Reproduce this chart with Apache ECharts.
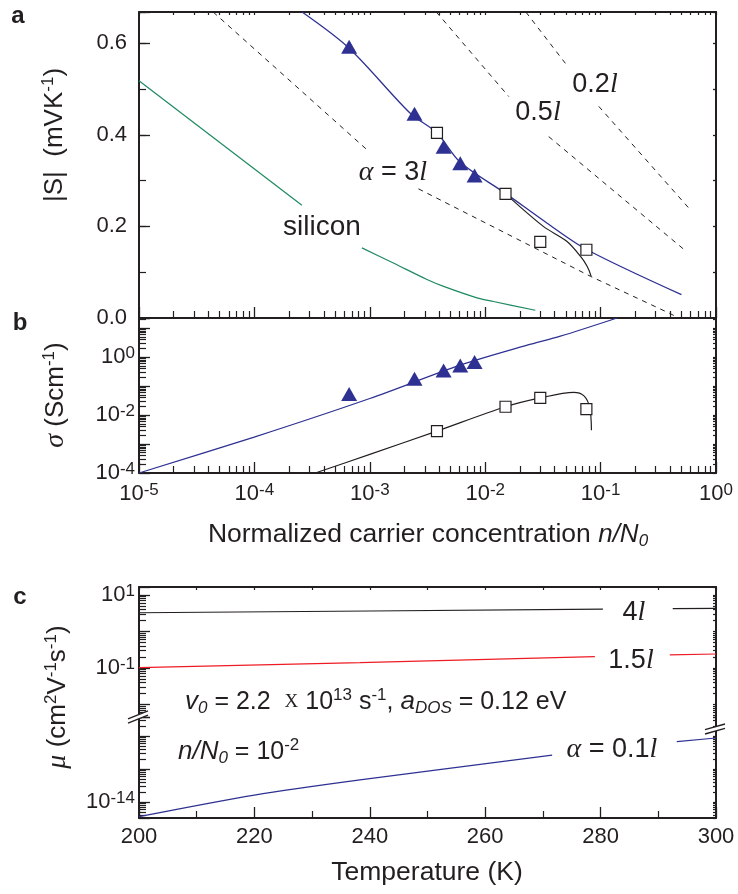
<!DOCTYPE html>
<html><head><meta charset="utf-8">
<script src="https://cdn.jsdelivr.net/npm/echarts@6/dist/echarts.min.js"></script>
<style>html,body{margin:0;padding:0;background:#fff}#c{width:738px;height:894px}</style>
</head><body><div id="c"></div>
<script>
// ===== Panel a: |S| (mV/K) vs n/N0 =====
const aBlueFit   = [[2.59e-4,0.668],[6.62e-4,0.589],[2.24e-3,0.447],[3.82e-3,0.404],[6.08e-3,0.340],[1.52e-2,0.271],[3.44e-2,0.207],[7.64e-2,0.149],[0.502,0.051]];
const aBlackFit  = [[1.5e-2,0.271],[3.19e-2,0.200],[5.12e-2,0.167],[6.68e-2,0.135],[7.64e-2,0.113],[8.28e-2,0.091]];
const aTriangles = [[6.62e-4,0.592],[2.44e-3,0.446],[4.36e-3,0.374],[6.08e-3,0.338],[8.09e-3,0.311]];
const aSquares   = [[3.82e-3,0.404],[1.5e-2,0.271],[3.0e-2,0.166],[7.53e-2,0.149]];
const aDash3l_1  = [[4.39e-5,0.668],[9.48e-4,0.367]];
const aDash3l_2  = [[2.64e-3,0.282],[8.17e-2,0.091],[0.39,0.011],[0.46,0.002]];
const aDash05l_1 = [[3.77e-3,0.668],[1.6e-2,0.4835]];
const aDash05l_2 = [[3.55e-2,0.396],[0.52,0.151]];
const aDash02l_1 = [[2.25e-2,0.668],[4.95e-2,0.556]];
const aDash02l_2 = [[9.64e-2,0.462],[0.581,0.240]];
const aSilicon_1 = [[1e-5,0.518],[2.58e-4,0.246]];
const aSilicon_2 = [[8.55e-4,0.153],[1.6e-3,0.120],[3.13e-3,0.084],[4.36e-3,0.069],[8.49e-3,0.044],[1.18e-2,0.036],[2.72e-2,0.017]];
const aYRange    = [0, 0.668];
const aYTicks    = [0, 0.2, 0.4, 0.6];

// ===== Panel b: sigma (S/cm) vs n/N0 =====
const bBlueFit   = [[1e-5,1e-4],[9.8e-5,1.7e-3],[1.0e-3,3.72e-2],[6.08e-3,0.525],[2.31e-2,2.57],[4.48e-2,5.25],[0.139,22.3]];
const bBlackFit  = [[3.37e-4,1e-4],[1.0e-3,4.4e-4],[3.82e-3,2.8e-3],[1.5e-2,1.93e-2],[3.0e-2,3.9e-2],[5.85e-2,6.07e-2],[7.14e-2,4.66e-2],[8.05e-2,1.82e-2],[8.33e-2,2.96e-3]];
const bTriangles = [[6.62e-4,0.053],[2.44e-3,0.177],[4.36e-3,0.345],[6.08e-3,0.51],[8.09e-3,0.67]];
const bSquares   = [[3.82e-3,0.0028],[1.5e-2,0.0193],[3.0e-2,0.039],[7.53e-2,0.016]];

// ===== Panel c: mu vs temperature (broken log axis) =====
const c4l_1   = [[200,3.27],[240,3.65],[280.4,4.10]];
const c4l_2   = [[292.5,4.25],[300,4.33]];
const c15l_1  = [[200,0.102],[238.3,0.140],[279,0.204]];
const c15l_2  = [[292,0.229],[300,0.242]];
const c01l_1  = [[200,3.59e-15],[220,1.62e-14],[238.3,4.68e-14],[271.6,2.63e-13]];
const c01l_2  = [[293.2,6.76e-13],[300,8.71e-13]];

// axis ranges in decades (log10)
const nExp     = [-5, 0];
const bExp     = [-4, 1.3483];
const cUpExp   = [-2.342, 1.2201];
const cLowExp  = [-14.4855, -11.4237];
const tRange   = [200, 300];

const FONT = "'Liberation Sans', Arial, Helvetica, sans-serif";
const SERIF = "'Liberation Serif', 'Times New Roman', serif";
const INK = '#231f20', BLUE = '#2e3192', GREEN = '#1f8a5f', RED = '#ed1c24';

function powLabel(v, allowed) {
  const l = Math.log10(v), e = Math.round(l);
  if (Math.abs(l - e) > 1e-6) return '';
  if (allowed && allowed.indexOf(e) < 0) return '';
  return '10{sup|' + e + '}';
}
function minorVals(r) {
  const out = [];
  for (let e = Math.floor(r[0]); e <= Math.ceil(r[1]); e++)
    for (let k = 2; k <= 9; k++) { const v = e + Math.log10(k); if (v > r[0] && v < r[1]) out.push(v); }
  return out;
}
const supRich = { sup: { fontSize: 17, lineHeight: 17, verticalAlign: 'top', color: INK, fontFamily: FONT } };
const noSplit = { splitLine: { show: false }, minorSplitLine: { show: false } };
const hiddenLine = { show: true, lineStyle: { color: INK, width: 0, opacity: 0 } };

function ax(o) {
  const line = Object.assign({ show: true, onZero: false, lineStyle: { color: INK, width: 2 } }, o.axisLine || {});
  return Object.assign({ axisTick: { show: false }, minorTick: { show: false }, axisLabel: { show: false } }, noSplit, o, { axisLine: line });
}
function tick(len, w) { return { show: true, inside: true, length: len, lineStyle: { color: INK, width: w } }; }
// overlay axis (in decades) that only carries the log minor ticks 2..9 x 10^k
function minorAx(grid, r, pos, len) {
  const t = tick(len, 1.2);
  t.customValues = minorVals(r);
  return ax({ gridIndex: grid, type: 'value', min: r[0], max: r[1], position: pos, axisLine: hiddenLine, axisTick: t });
}
const logLab = (allowed, margin) => ({ show: true, margin: margin, fontSize: 22, lineHeight: 24, color: INK, fontFamily: FONT,
  formatter: v => powLabel(v, allowed), rich: supRich });

const MAJ = 11, MIN = 7, TINY = 3;

const xAxis = [
  ax({ gridIndex: 0, type: 'log', min: Math.pow(10, nExp[0]), max: Math.pow(10, nExp[1]), position: 'bottom', axisTick: tick(MAJ, 1.3) }),
  ax({ gridIndex: 0, type: 'log', min: Math.pow(10, nExp[0]), max: Math.pow(10, nExp[1]), position: 'top', axisTick: tick(TINY, 1.2) }),
  ax({ gridIndex: 1, type: 'log', min: Math.pow(10, nExp[0]), max: Math.pow(10, nExp[1]), position: 'bottom', axisTick: tick(MAJ, 1.3),
       axisLabel: logLab(null, 9) }),
  ax({ gridIndex: 2, type: 'value', min: tRange[0], max: tRange[1], interval: 10, position: 'top', axisTick: tick(TINY, 1.2) }),
  ax({ gridIndex: 3, type: 'value', min: tRange[0], max: tRange[1], interval: 20, position: 'bottom', axisTick: tick(MAJ, 1.3),
       minorTick: { show: true, splitNumber: 2, length: MIN, lineStyle: { color: INK, width: 1.2 } },
       axisLabel: { show: true, margin: 8, fontSize: 22, color: INK, fontFamily: FONT } }),
  minorAx(0, nExp, 'bottom', MIN),
  minorAx(0, nExp, 'top', TINY),
  minorAx(1, nExp, 'bottom', MIN)
];

const yAxis = [
  ax({ gridIndex: 0, type: 'value', min: aYRange[0], max: aYRange[1], interval: 0.2, position: 'left', axisTick: tick(MAJ, 1.3),
       axisLabel: { show: true, margin: 12, fontSize: 22, color: INK, fontFamily: FONT,
         formatter: v => aYTicks.some(t => Math.abs(t - v) < 1e-9) ? v.toFixed(1) : '' } }),
  ax({ gridIndex: 0, type: 'value', min: aYRange[0], max: aYRange[1], interval: 0.1, position: 'left', axisLine: hiddenLine, axisTick: tick(MIN, 1.2) }),
  ax({ gridIndex: 0, type: 'value', min: aYRange[0], max: aYRange[1], interval: 0.1, position: 'right', axisTick: tick(TINY, 1.3) }),
  ax({ gridIndex: 1, type: 'log', min: Math.pow(10, bExp[0]), max: Math.pow(10, bExp[1]), position: 'left', axisTick: tick(MAJ, 1.3),
       axisLabel: logLab([0, -2, -4], 4) }),
  ax({ gridIndex: 1, type: 'log', min: Math.pow(10, bExp[0]), max: Math.pow(10, bExp[1]), position: 'right', axisTick: tick(TINY, 1.2) }),
  ax({ gridIndex: 2, type: 'log', min: Math.pow(10, cUpExp[0]), max: Math.pow(10, cUpExp[1]), position: 'left', axisTick: tick(MAJ, 1.3),
       axisLabel: logLab([1, -1], 4) }),
  ax({ gridIndex: 2, type: 'log', min: Math.pow(10, cUpExp[0]), max: Math.pow(10, cUpExp[1]), position: 'right', axisTick: tick(TINY, 1.2) }),
  ax({ gridIndex: 3, type: 'log', min: Math.pow(10, cLowExp[0]), max: Math.pow(10, cLowExp[1]), position: 'left', axisTick: tick(MAJ, 1.3),
       axisLabel: logLab([-14], 4) }),
  ax({ gridIndex: 3, type: 'log', min: Math.pow(10, cLowExp[0]), max: Math.pow(10, cLowExp[1]), position: 'right', axisTick: tick(TINY, 1.2) }),
  minorAx(1, bExp, 'left', MIN),
  minorAx(1, bExp, 'right', TINY),
  minorAx(2, cUpExp, 'left', MIN),
  minorAx(2, cUpExp, 'right', TINY),
  minorAx(3, cLowExp, 'left', MIN),
  minorAx(3, cLowExp, 'right', TINY)
];

function ln(data, xi, yi, color, width, dashed, smooth) {
  return { type: 'line', data: data, xAxisIndex: xi, yAxisIndex: yi, showSymbol: false, symbol: 'none',
    smooth: smooth || false, lineStyle: { color: color, width: width, type: dashed ? [5, 5] : 'solid' }, z: 3 };
}
function tri(data, xi, yi) {
  return { type: 'scatter', data: data, xAxisIndex: xi, yAxisIndex: yi, symbol: 'triangle', symbolSize: [16, 14],
    itemStyle: { color: BLUE, opacity: 1 }, z: 5 };
}
function sq(data, xi, yi) {
  return { type: 'scatter', data: data, xAxisIndex: xi, yAxisIndex: yi, symbol: 'rect', symbolSize: 11,
    itemStyle: { color: '#fff', borderColor: INK, borderWidth: 1.2, opacity: 1 }, z: 6 };
}

const series = [
  ln(aSilicon_1, 0, 0, GREEN, 1.2), ln(aSilicon_2, 0, 0, GREEN, 1.2, false, 0.3),
  ln(aDash3l_1, 0, 0, INK, 1, true), ln(aDash3l_2, 0, 0, INK, 1, true),
  ln(aDash05l_1, 0, 0, INK, 1, true), ln(aDash05l_2, 0, 0, INK, 1, true),
  ln(aDash02l_1, 0, 0, INK, 1, true), ln(aDash02l_2, 0, 0, INK, 1, true),
  ln(aBlueFit, 0, 0, BLUE, 1.3, false, 0.3), ln(aBlackFit, 0, 0, INK, 1.2, false, 0.3),
  tri(aTriangles, 0, 0), sq(aSquares, 0, 0),
  ln(bBlueFit, 2, 3, BLUE, 1.3, false, 0.3), ln(bBlackFit, 2, 3, INK, 1.2, false, 0.3),
  tri(bTriangles, 2, 3), sq(bSquares, 2, 3),
  ln(c4l_1, 3, 5, INK, 1.2), ln(c4l_2, 3, 5, INK, 1.2),
  ln(c15l_1, 3, 5, RED, 1.2), ln(c15l_2, 3, 5, RED, 1.2),
  ln(c01l_1, 4, 7, BLUE, 1.2, false, 0.3), ln(c01l_2, 4, 7, BLUE, 1.2)
];

const base = { fill: INK, fontFamily: FONT };
const richAll = {
  sup: { fontSize: 17, lineHeight: 17, verticalAlign: 'top', fill: INK, fontFamily: FONT },
  sub: { fontSize: 17, lineHeight: 17, verticalAlign: 'bottom', fill: INK, fontFamily: FONT, fontStyle: 'italic' },
  it: { fontSize: 26, fill: INK, fontFamily: FONT, fontStyle: 'italic' },
  g: { fontSize: 28, fill: INK, fontFamily: SERIF, fontStyle: 'italic' },
  l: { fontSize: 28, fill: INK, fontFamily: SERIF, fontStyle: 'italic' },
  x: { fontSize: 19, fill: INK, fontFamily: SERIF }
};
function txt(x, y, text, size, opts) {
  return Object.assign({ type: 'text', x: x, y: y, z: 100,
    style: Object.assign({ text: text, fontSize: size, lineHeight: 30, align: 'center', verticalAlign: 'middle', rich: richAll }, base, (opts && opts.style) || {}) },
    opts && opts.rotation ? { rotation: opts.rotation } : {});
}
function brk(cx, cy, slope) {
  const w = 10, d = 2.2;
  return [
    { type: 'polygon', z: 120, shape: { points: [[cx - w, cy - d + w * slope], [cx + w, cy - d - w * slope], [cx + w, cy + d - w * slope], [cx - w, cy + d + w * slope]] }, style: { fill: '#fff' } },
    { type: 'line', z: 121, shape: { x1: cx - w, y1: cy - d + w * slope, x2: cx + w, y2: cy - d - w * slope }, style: { stroke: INK, lineWidth: 1.3 } },
    { type: 'line', z: 121, shape: { x1: cx - w, y1: cy + d + w * slope, x2: cx + w, y2: cy + d - w * slope }, style: { stroke: INK, lineWidth: 1.3 } }
  ];
}

const graphics = [
  txt(18, 16, 'a', 24, { style: { fontWeight: 'bold' } }),
  txt(20, 323, 'b', 24, { style: { fontWeight: 'bold' } }),
  txt(20, 597, 'c', 24, { style: { fontWeight: 'bold' } }),
  txt(322, 227, 'silicon', 28),
  txt(393, 173, '{g|α} = 3{l|l}', 27),
  txt(538, 113, '0.5{l|l}', 27),
  txt(595, 85, '0.2{l|l}', 27),
  txt(634, 613, '4{l|l}', 27),
  txt(631, 661, '1.5{l|l}', 27),
  txt(612, 750, '{g|α} = 0.1{l|l}', 27),
  txt(185, 702, '{it|v}{sub|0} = 2.2  {x|X} 10{sup|13} s{sup|-1}, {it|a}{sub|DOS} = 0.12 eV', 25, { style: { align: 'left' } }),
  txt(178, 752, '{it|n/N}{sub|0} = 10{sup|-2}', 25, { style: { align: 'left' } }),
  txt(55, 135, '|S|  (mVK{sup|-1})', 26, { rotation: Math.PI / 2 }),
  txt(56, 395, '{g|σ} (Scm{sup|-1})', 26, { rotation: Math.PI / 2 }),
  txt(58, 697, '{g|μ} (cm{sup|2}V{sup|-1}s{sup|-1})', 26, { rotation: Math.PI / 2 }),
  txt(428, 535, 'Normalized carrier concentration {it|n/N}{sub|0}', 26.5),
  txt(427, 873, 'Temperature (K)', 26.5)
].concat(brk(138, 717, 0.4), brk(715, 729, 0.28));

const chart = echarts.init(document.getElementById('c'), null, { renderer: 'canvas' });
chart.setOption({
  animation: false,
  backgroundColor: '#fff',
  textStyle: { fontFamily: FONT, color: INK },
  grid: [
    { left: 139, top: 12, width: 577, height: 306 },
    { left: 139, top: 318, width: 577, height: 155 },
    { left: 139, top: 587, width: 577, height: 130 },
    { left: 139, top: 717, width: 577, height: 101 }
  ],
  xAxis: xAxis,
  yAxis: yAxis,
  series: series,
  graphic: { elements: graphics }
});
</script></body></html>
